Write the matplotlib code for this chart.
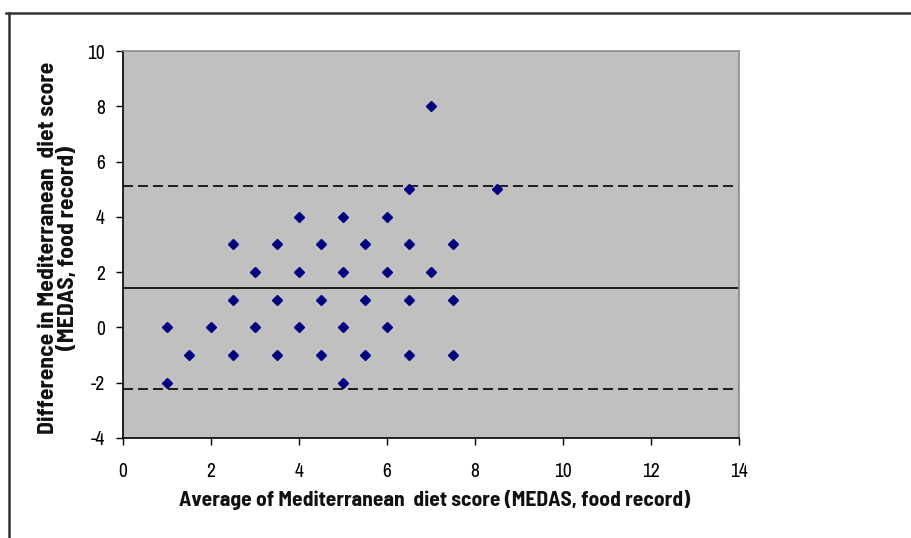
"""Bland-Altman plot: MEDAS score difference vs average (food record)."""
import matplotlib
matplotlib.use("Agg")
import matplotlib.pyplot as plt
from matplotlib.lines import Line2D

plt.rcParams["font.family"] = ["Archivo Narrow", "Liberation Sans", "DejaVu Sans"]
plt.rcParams["axes.unicode_minus"] = False
LABEL_FONT = ["Barlow Semi Condensed", "Asap Condensed", "DejaVu Sans"]

# average score (x) and difference (y), one entry per plotted diamond
avg = [1, 1, 1.5, 2, 2.5, 2.5, 2.5, 3, 3, 3.5, 3.5, 3.5,
       4, 4, 4, 4.5, 4.5, 4.5, 5, 5, 5, 5, 5.5, 5.5, 5.5,
       6, 6, 6, 6.5, 6.5, 6.5, 6.5, 7, 7, 7.5, 7.5, 7.5, 8.5]
diff = [0, -2, -1, 0, 3, 1, -1, 2, 0, 3, 1, -1,
        4, 2, 0, 3, 1, -1, 4, 2, 0, -2, 3, 1, -1,
        4, 2, 0, 5, 3, 1, -1, 8, 2, 3, 1, -1, 5]
mean_diff = 1.44
upper_loa = 5.11
lower_loa = -2.23

fig = plt.figure(figsize=(9.12, 5.38), dpi=100)
ax = fig.add_axes([0.1349, 0.1859, 0.6754, 0.7193])
ax.set_facecolor("#c0c0c0")

ax.axhline(mean_diff, color="black", lw=1.2)
ax.axhline(upper_loa, color="black", lw=1.2, ls=(0, (6, 3)))
ax.axhline(lower_loa, color="black", lw=1.2, ls=(0, (6, 3)))
ax.plot(avg, diff, ls="none", marker="D", ms=5.6, color="#000080", zorder=3)

ax.set_xlim(0, 14)
ax.set_ylim(-4, 10)
ax.set_xticks(range(0, 15, 2))
ax.set_yticks(range(-4, 11, 2))
ax.tick_params(direction="out", length=5, width=1, labelsize=14, colors="black")
ax.tick_params(axis="x", pad=12)
ax.tick_params(axis="y", pad=8)
for s in ("top", "right"):
    ax.spines[s].set_color("#8c8c8c")
    ax.spines[s].set_linewidth(1.2)
for s in ("left", "bottom"):
    ax.spines[s].set_color("black")
    ax.spines[s].set_linewidth(1.2)

fig.text(435 / 912, 1 - 500 / 538,
         "Average of Mediterranean  diet score (MEDAS, food record)",
         ha="center", va="center", fontsize=15.5, fontweight="bold",
         color="#111111", family=LABEL_FONT)
fig.text(58 / 912, 1 - 248 / 538,
         "Difference in Mediterranean  diet score\n(MEDAS, food record)",
         ha="center", va="center", rotation=90, fontsize=17, fontweight="bold",
         color="#111111", linespacing=0.95, family=LABEL_FONT)

# outer chart frame (top and left edges visible)
fig.add_artist(Line2D([6 / 912, 1], [1 - 13 / 538] * 2, color="#333333", lw=1.8,
                      transform=fig.transFigure))
fig.add_artist(Line2D([9 / 912] * 2, [0, 1 - 13 / 538], color="#333333", lw=1.8,
                      transform=fig.transFigure))

fig.savefig("out.png", dpi=100)
plt.close(fig)
